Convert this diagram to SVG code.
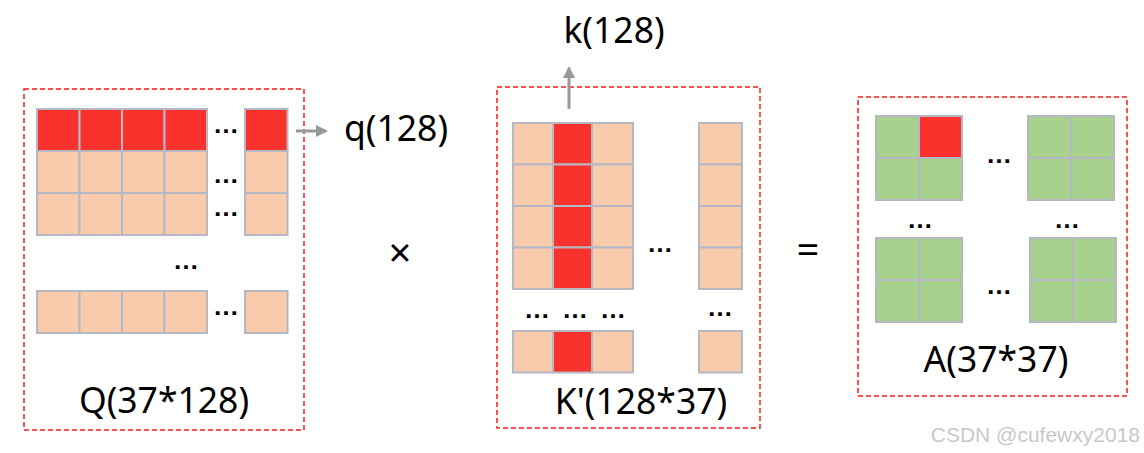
<svg xmlns="http://www.w3.org/2000/svg" width="1144" height="453" viewBox="0 0 1144 453">
<style>
.box{fill:none;stroke:#F21A1A;stroke-width:1.5;stroke-dasharray:5 3}
.p{fill:#F8CBAD;stroke:#B5B8C3;stroke-width:2}
.r{fill:#FA322D;stroke:#B5B8C3;stroke-width:2}
.g{fill:#A9D18E;stroke:#B5B8C3;stroke-width:2}
.lbl{font-family:"Noto Sans","Open Sans",sans-serif;font-size:35.5px;fill:#000}
.dots{font-family:"Liberation Sans",sans-serif;font-size:26px;font-weight:bold;fill:#000;text-anchor:middle}
.op{font-family:"Noto Sans",sans-serif;fill:#000;text-anchor:middle}
.arr{stroke:#999;stroke-width:3;fill:none}
</style>
<defs>
<marker id="ah2" markerWidth="14" markerHeight="14" refX="10" refY="7" orient="auto" markerUnits="userSpaceOnUse" viewBox="0 0 14 14">
<path d="M0,1 L12,7 L0,13 z" fill="#999"/>
</marker>
</defs>

<g id="Q">
<rect class="box" x="24" y="89" width="280" height="341"/>
<rect class="r" x="37" y="109" width="42.5" height="42"/>
<rect class="r" x="79.5" y="109" width="42.5" height="42"/>
<rect class="r" x="122" y="109" width="42.5" height="42"/>
<rect class="r" x="164.5" y="109" width="42.5" height="42"/>
<rect class="r" x="245" y="109" width="42.5" height="42"/>
<rect class="p" x="37" y="151" width="42.5" height="42"/>
<rect class="p" x="79.5" y="151" width="42.5" height="42"/>
<rect class="p" x="122" y="151" width="42.5" height="42"/>
<rect class="p" x="164.5" y="151" width="42.5" height="42"/>
<rect class="p" x="245" y="151" width="42.5" height="42"/>
<rect class="p" x="37" y="193" width="42.5" height="42"/>
<rect class="p" x="79.5" y="193" width="42.5" height="42"/>
<rect class="p" x="122" y="193" width="42.5" height="42"/>
<rect class="p" x="164.5" y="193" width="42.5" height="42"/>
<rect class="p" x="245" y="193" width="42.5" height="42"/>
<rect class="p" x="37" y="291" width="42.5" height="42"/>
<rect class="p" x="79.5" y="291" width="42.5" height="42"/>
<rect class="p" x="122" y="291" width="42.5" height="42"/>
<rect class="p" x="164.5" y="291" width="42.5" height="42"/>
<rect class="p" x="245" y="291" width="42.5" height="42"/>
<text class="dots" x="226" y="133">…</text>
<text class="dots" x="226" y="183">…</text>
<text class="dots" x="226" y="216">…</text>
<text class="dots" x="186" y="269">…</text>
<text class="dots" x="226" y="315">…</text>
<text class="lbl" x="164" y="413" text-anchor="middle">Q(37*128)</text>
</g>

<g id="K">
<rect class="box" x="497" y="87" width="263" height="341"/>
<rect class="p" x="513" y="123" width="40" height="41.5"/>
<rect class="r" x="553" y="123" width="39" height="41.5"/>
<rect class="p" x="592" y="123" width="41" height="41.5"/>
<rect class="p" x="513" y="164.5" width="40" height="41.5"/>
<rect class="r" x="553" y="164.5" width="39" height="41.5"/>
<rect class="p" x="592" y="164.5" width="41" height="41.5"/>
<rect class="p" x="513" y="206" width="40" height="41.5"/>
<rect class="r" x="553" y="206" width="39" height="41.5"/>
<rect class="p" x="592" y="206" width="41" height="41.5"/>
<rect class="p" x="513" y="247.5" width="40" height="41.5"/>
<rect class="r" x="553" y="247.5" width="39" height="41.5"/>
<rect class="p" x="592" y="247.5" width="41" height="41.5"/>
<rect class="p" x="513" y="331" width="40" height="41.5"/>
<rect class="r" x="553" y="331" width="39" height="41.5"/>
<rect class="p" x="592" y="331" width="41" height="41.5"/>
<rect class="p" x="699" y="123" width="43" height="41.5"/>
<rect class="p" x="699" y="164.5" width="43" height="41.5"/>
<rect class="p" x="699" y="206" width="43" height="41.5"/>
<rect class="p" x="699" y="247.5" width="43" height="41.5"/>
<rect class="p" x="699" y="331" width="43" height="41.5"/>
<text class="dots" x="537" y="318">…</text>
<text class="dots" x="575" y="318">…</text>
<text class="dots" x="613" y="318">…</text>
<text class="dots" x="720" y="316">…</text>
<text class="dots" x="660" y="252">…</text>
<text class="lbl" x="641" y="414" text-anchor="middle">K'(128*37)</text>
</g>

<g id="A">
<rect class="box" x="858" y="97" width="269" height="299"/>
<rect class="g" x="876" y="116" width="43" height="42"/>
<rect class="r" x="919" y="116" width="43" height="42"/>
<rect class="g" x="876" y="158" width="43" height="42"/>
<rect class="g" x="919" y="158" width="43" height="42"/>
<rect class="g" x="1028" y="116" width="43" height="42"/>
<rect class="g" x="1071" y="116" width="43" height="42"/>
<rect class="g" x="1028" y="158" width="43" height="42"/>
<rect class="g" x="1071" y="158" width="43" height="42"/>
<rect class="g" x="876" y="238" width="43" height="42"/>
<rect class="g" x="919" y="238" width="43" height="42"/>
<rect class="g" x="876" y="280" width="43" height="42"/>
<rect class="g" x="919" y="280" width="43" height="42"/>
<rect class="g" x="1030" y="238" width="43" height="42"/>
<rect class="g" x="1073" y="238" width="43" height="42"/>
<rect class="g" x="1030" y="280" width="43" height="42"/>
<rect class="g" x="1073" y="280" width="43" height="42"/>
<text class="dots" x="999" y="163">…</text>
<text class="dots" x="920" y="228">…</text>
<text class="dots" x="1067" y="228">…</text>
<text class="dots" x="999" y="294">…</text>
<text class="lbl" x="996" y="372" text-anchor="middle">A(37*37)</text>
</g>

<g id="q-label">
<text class="lbl" x="344" y="141">q(128)</text>
</g>
<g id="k-label">
<text class="lbl" x="614" y="43" text-anchor="middle">k(128)</text>
</g>
<g id="ops">
<text class="op" x="400" y="267" font-size="40">×</text>
<text class="op" x="808" y="264" font-size="40">=</text>
</g>

<g id="connectors">
<line class="arr" x1="296" y1="131" x2="326" y2="131" marker-end="url(#ah2)"/>
<line class="arr" x1="569" y1="109" x2="569" y2="68" marker-end="url(#ah2)"/>
</g>

<text x="1140" y="442" text-anchor="end" font-family="'Liberation Sans',sans-serif" font-size="21" fill="#C8C8C8">CSDN @cufewxy2018</text>
</svg>
